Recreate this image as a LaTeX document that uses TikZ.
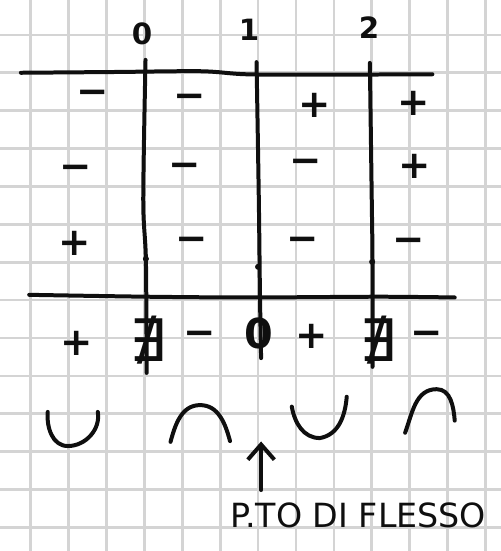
\documentclass[tikz,border=0pt]{standalone}
\usepackage{fontspec}
\setmainfont{DejaVu Sans}
\usetikzlibrary{
  arrows.meta,
  positioning,
  calc
}
\tikzset{
  every node/.style={inner sep=0pt}
}
\definecolor{paperGrid}{RGB}{212, 212, 212}
\definecolor{penInk}{RGB}{15, 15, 15}

\begin{document}
\begin{tikzpicture}[
    gridline/.style={draw=paperGrid, line width=2pt},
    ink/.style={draw=penInk, line width=3pt, line cap=round, line join=round},
    sign/.style={text=penInk, font=\fontsize{29}{29}\selectfont\bfseries},
    nosol/.style={text=penInk, font=\fontsize{44}{44}\selectfont},
    zero/.style={text=penInk, font=\fontsize{31}{31}\selectfont\bfseries},
    digit/.style={text=penInk, font=\fontsize{22}{22}\selectfont\bfseries},
    note/.style={text=penInk, font=\fontsize{25}{25}\selectfont},
    arrow/.style={ink, -{Straight Barb[length=4mm, width=7mm]}}
]
    \useasboundingbox (0,0) rectangle (13.22,-14.54);

    % squared paper
    \foreach \i in {0,...,12}
        \draw[gridline] (0.81+\i,0) -- (0.81+\i,-14.54);
    \foreach \j in {0,...,13}
        \draw[gridline] (0,-0.92-\j) -- (13.22,-0.92-\j);

    % points on the axis
    \node[digit] (x0) at (3.75,-0.88) {0};
    \node[digit] (x1) at (6.57,-0.79) {1};
    \node[digit] (x2) at (9.74,-0.74) {2};

    % table lines
    \draw[ink] plot[smooth] coordinates {(0.55,-1.92) (3.0,-1.90) (5.3,-1.88) (6.5,-1.96) (8.5,-1.97) (11.41,-1.96)};
    \draw[ink] plot[smooth] coordinates {(0.77,-7.78) (3.9,-7.83) (6.6,-7.85) (10.0,-7.83) (12.0,-7.85)};
    \draw[ink] plot[smooth] coordinates {(3.84,-1.58) (3.78,-5.28) (3.85,-6.86) (3.87,-9.84)};
    \draw[ink] plot[smooth] coordinates {(6.77,-1.64) (6.83,-5.28) (6.86,-7.78) (6.89,-9.45)};
    \draw[ink] plot[smooth] coordinates {(9.76,-1.66) (9.81,-5.28) (9.83,-6.91) (9.83,-9.68)};
    \fill[penInk] (3.85,-6.83) circle (0.08) (6.81,-7.04) circle (0.08) (9.82,-6.91) circle (0.08);

    % first row
    \node[sign] (r1a) at (2.45,-2.58) {−};
    \node[sign] (r1b) at (5.01,-2.68) {−};
    \node[sign] (r1c) at (8.31,-2.77) {+};
    \node[sign] (r1d) at (10.92,-2.72) {+};

    % second row
    \node[sign] (r2a) at (2.01,-4.56) {−};
    \node[sign] (r2b) at (4.88,-4.50) {−};
    \node[sign] (r2c) at (8.07,-4.40) {−};
    \node[sign] (r2d) at (10.95,-4.38) {+};

    % third row
    \node[sign] (r3a) at (1.98,-6.41) {+};
    \node[sign] (r3b) at (5.07,-6.46) {−};
    \node[sign] (r3c) at (7.99,-6.46) {−};
    \node[sign] (r3d) at (10.79,-6.48) {−};

    % result
    \node[sign] (res1) at (2.03,-9.05) {+};
    \node[nosol] (res2) at (3.90,-8.97) {∄};
    \node[sign] (res3) at (5.28,-8.94) {−};
    \node[zero] (res4) at (6.83,-8.79) {0};
    \node[sign] (res5) at (8.23,-8.87) {+};
    \node[nosol] (res6) at (9.97,-8.97) {∄};
    \node[sign] (res7) at (11.27,-8.94) {−};

    % concavity
    \draw[ink] (1.26,-10.87) to[out=-95, in=180] (1.79,-11.77) to[out=0, in=-80] (2.58,-10.87);
    \draw[ink] (4.50,-11.66) to[out=75, in=180] (5.28,-10.69) to[out=0, in=105] (6.07,-11.64);
    \draw[ink] (7.70,-10.73) to[out=-80, in=180] (8.44,-11.56) to[out=10, in=-95] (9.15,-10.47);
    \draw[ink] (10.69,-11.42) to[out=70, in=180] (11.52,-10.27) to[out=0, in=95] (12.0,-11.10);

    \coordinate (flexpoint) at (6.89,-11.65);
    \node[note, anchor=west] (flexlabel) at (6.07,-13.61) {P.TO DI FLESSO};
    \draw[arrow] ($(flexlabel.north -| flexpoint)+(0,0.34)$) -- (flexpoint);

\end{tikzpicture}
\end{document}
